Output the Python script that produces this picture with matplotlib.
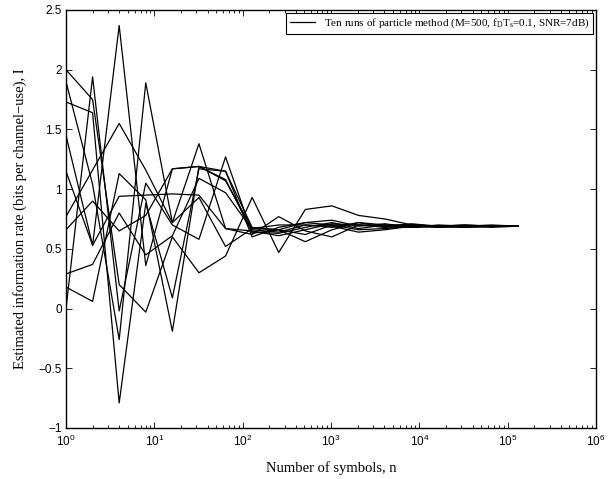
import matplotlib
matplotlib.use("Agg")
import matplotlib.pyplot as plt
import numpy as np

n_symbols = [1, 2, 4, 8, 16, 32, 64, 128, 256, 512, 1024, 2048, 4096, 8192,
             16384, 32768, 65536, 131072]

run1 = [0.00, 1.94, -0.02, 1.05, 0.70, 0.58, 1.27, 0.63, 0.66, 0.62, 0.70, 0.66, 0.67, 0.69, 0.68, 0.69, 0.69, 0.69]
run2 = [0.18, 0.06, 1.13, 0.91, -0.19, 1.19, 1.15, 0.60, 0.68, 0.72, 0.74, 0.69, 0.71, 0.68, 0.70, 0.69, 0.68, 0.69]
run3 = [0.29, 0.37, 0.80, 0.45, 0.61, 1.09, 0.97, 0.66, 0.64, 0.70, 0.68, 0.72, 0.68, 0.70, 0.69, 0.68, 0.69, 0.69]
run4 = [0.77, 1.16, 1.55, 1.16, 0.72, 1.38, 0.67, 0.65, 0.61, 0.66, 0.71, 0.70, 0.69, 0.71, 0.69, 0.70, 0.69, 0.69]
run5 = [1.45, 0.53, 2.37, 0.36, 1.17, 1.19, 1.08, 0.64, 0.63, 0.68, 0.72, 0.67, 0.70, 0.68, 0.69, 0.70, 0.69, 0.69]
run6 = [1.15, 0.53, 0.94, 0.95, 0.96, 0.95, 0.67, 0.62, 0.77, 0.65, 0.60, 0.70, 0.68, 0.70, 0.68, 0.69, 0.69, 0.69]
run7 = [2.00, 1.75, 0.20, -0.03, 0.60, 0.30, 0.44, 0.93, 0.47, 0.83, 0.86, 0.78, 0.75, 0.70, 0.69, 0.68, 0.69, 0.69]
run8 = [1.90, 1.04, -0.26, 1.89, 0.72, 0.93, 0.52, 0.67, 0.66, 0.56, 0.66, 0.72, 0.70, 0.70, 0.69, 0.69, 0.70, 0.69]
run9 = [1.73, 1.64, -0.79, 0.88, 0.09, 1.17, 1.15, 0.68, 0.66, 0.72, 0.70, 0.70, 0.69, 0.68, 0.69, 0.69, 0.69, 0.69]
run10 = [0.66, 0.90, 0.65, 0.78, 1.17, 1.19, 1.07, 0.67, 0.70, 0.70, 0.69, 0.64, 0.66, 0.69, 0.69, 0.69, 0.69, 0.69]
runs = [run1, run2, run3, run4, run5, run6, run7, run8, run9, run10]

y_ticks = [-1, -0.5, 0, 0.5, 1, 1.5, 2, 2.5]
y_tick_labels = ["\u22121", "\u22120.5", "0", "0.5", "1", "1.5", "2", "2.5"]
x_ticks = [1, 10, 100, 1000, 10000, 100000, 1000000]
x_tick_labels = [r"$\mathsf{10^{%d}}$" % k for k in range(7)]

legend_label = "Ten runs of particle method (M=500, f$_\\mathrm{D}$T$_\\mathrm{s}$=0.1, SNR=7dB)"

plt.rcParams['mathtext.fontset'] = 'custom'
plt.rcParams['mathtext.rm'] = 'Liberation Serif'
plt.rcParams['mathtext.it'] = 'Liberation Serif:italic'
plt.rcParams['mathtext.sf'] = 'Liberation Sans'

fig = plt.figure(figsize=(6.11, 4.79), dpi=100)
ax = fig.add_axes([66/611, 1-428/479, 530/611, 418/479])

for i, r in enumerate(runs):
    ax.plot(n_symbols, r, color='black', linewidth=0.9,
            label=legend_label if i == 0 else None)

ax.set_xscale('log')
ax.set_xlim(1, 1e6)
ax.set_ylim(-1, 2.5)
ax.set_yticks(y_ticks)
ax.set_yticklabels(y_tick_labels, family='Liberation Sans', fontsize=8.5)
ax.set_xticks(x_ticks)
ax.set_xticklabels(x_tick_labels, fontsize=8.5)
ax.tick_params(which='both', direction='in', top=True, right=True, width=0.6)
ax.tick_params(which='major', length=4)
ax.tick_params(axis='x', which='major', pad=4)
ax.tick_params(axis='y', which='major', pad=3)
ax.tick_params(which='minor', length=2)
for s in ax.spines.values():
    s.set_linewidth(1.0)

ax.set_xlabel("Number of symbols, n", family='Liberation Serif', fontsize=10.5, labelpad=9)
ax.set_ylabel("Estimated information rate (bits per channel\u2212use), I",
              family='Liberation Serif', fontsize=10.5, labelpad=8)

leg = ax.legend(loc='upper right', prop={'family': 'Liberation Serif', 'size': 8},
                frameon=True, fancybox=False, edgecolor='black', framealpha=1,
                borderaxespad=0.25, handlelength=2.2, borderpad=0.35)
leg.get_frame().set_linewidth(0.8)

fig.savefig("out.png", dpi=100)
